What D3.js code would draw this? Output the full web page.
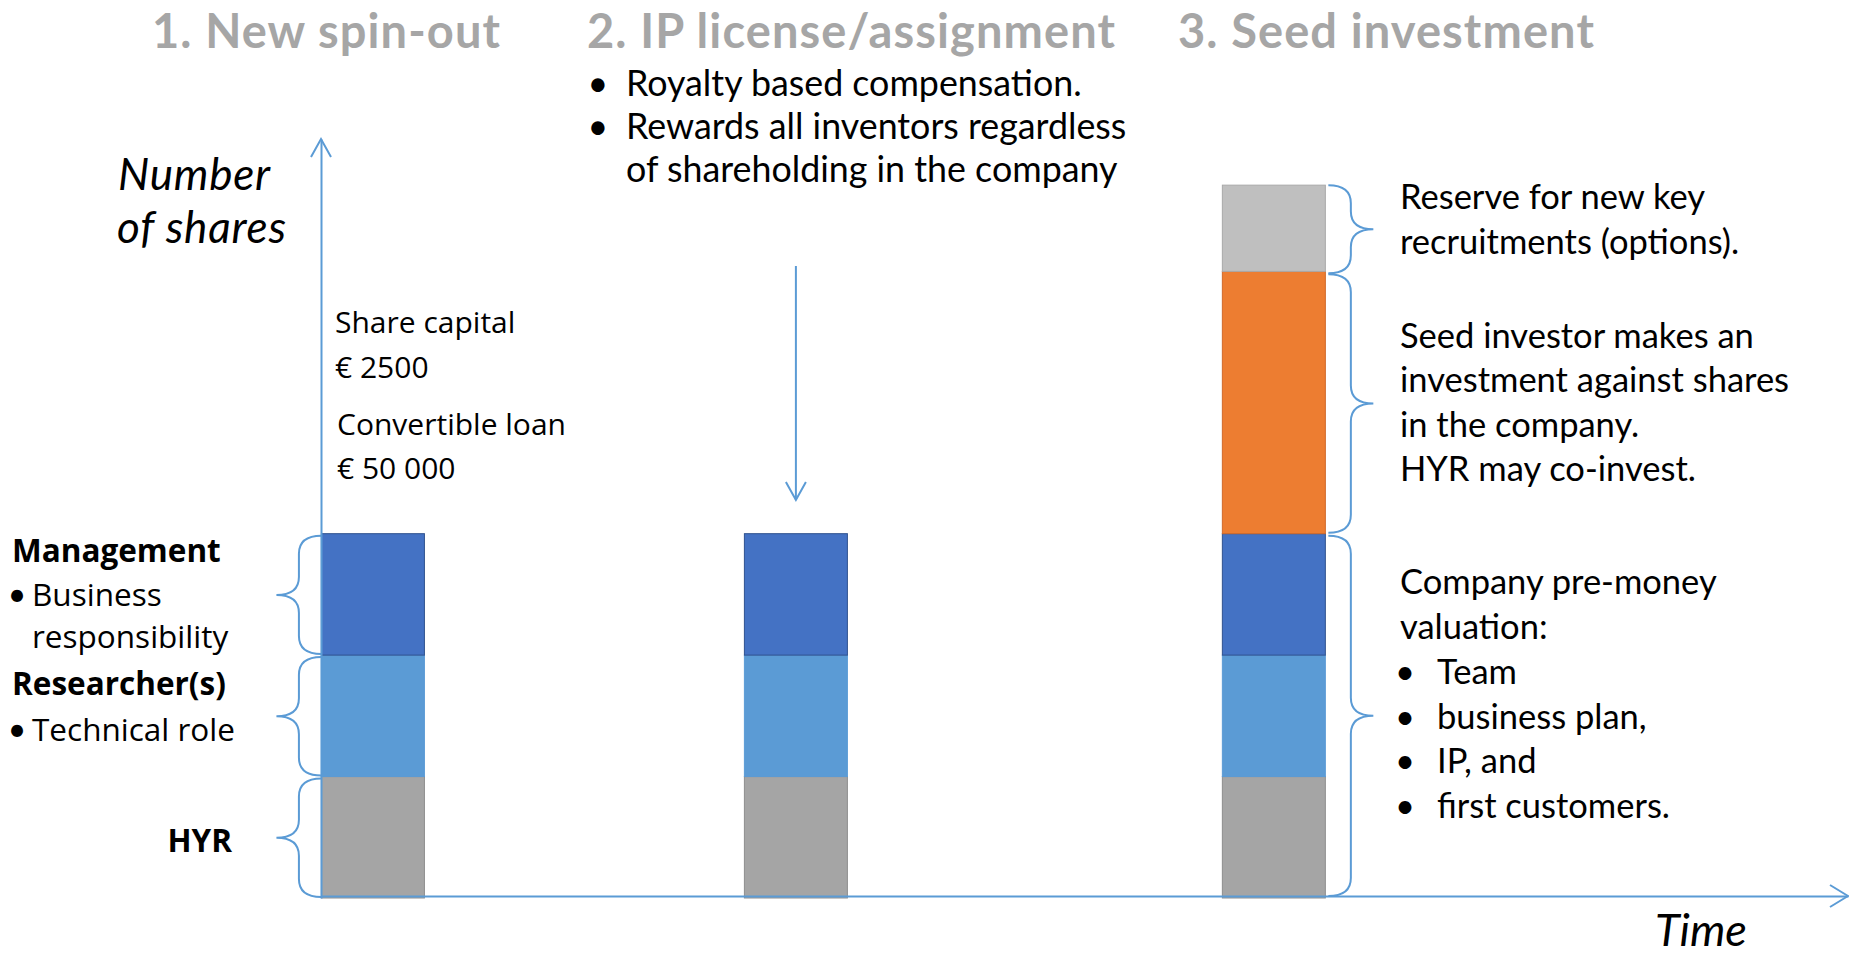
<!DOCTYPE html>
<html>
<head>
<meta charset="utf-8">
<script src="https://cdn.jsdelivr.net/npm/d3@7"></script>
<style>
  body { margin: 0; background: #fff; }
  svg { display: block; }
</style>
</head>
<body>
<svg id="chart"></svg>
<script>
// stages along the time axis
const stages = ["1. New spin-out", "2. IP license/assignment", "3. Seed investment"];
const stageTime = [3.4, 31.1, 62.4];

// share holdings per stage (relative units)
const holders = ["HYR", "Researcher(s)", "Management", "Seed investor", "Reserve"];
const hyrShares = [10, 10, 10];
const researcherShares = [10, 10, 10];
const managementShares = [10, 10, 10];
const seedShares = [0, 0, 21.6];
const reserveShares = [0, 0, 7.1];

const fills = ["#a5a5a5", "#5b9bd5", "#4472c4", "#ed7d31", "#bfbfbf"];
const strokes = ["#8e8e8e", "#5b9bd5", "#2f528f", "#d0692a", "#a9a9a9"];

const width = 1849, height = 956;
const lineColor = "#5b9bd5";
const bodyFont = "Lato, 'Noto Sans', sans-serif";
const labelFont = "'Open Sans', 'Noto Sans', sans-serif";

const svg = d3.select("#chart")
    .attr("width", width)
    .attr("height", height);

// build table for stacking
const table = stages.map((s, i) => ({
  stage: s,
  time: stageTime[i],
  "HYR": hyrShares[i],
  "Researcher(s)": researcherShares[i],
  "Management": managementShares[i],
  "Seed investor": seedShares[i],
  "Reserve": reserveShares[i]
}));

const series = d3.stack().keys(holders)(table);

const xScale = d3.scaleLinear().domain([0, 100]).range([321, 1848]);
const yScale = d3.scaleLinear().domain([0, 62.5]).range([898, 139]);
const barW = 103;

// bars
const layers = svg.append("g").attr("class", "bars")
  .selectAll("g")
  .data(series)
  .join("g")
    .attr("fill", (d, i) => fills[i])
    .attr("stroke", (d, i) => strokes[i])
    .attr("stroke-width", 1);

layers.selectAll("rect")
  .data(d => d.filter(p => p[1] - p[0] > 0))
  .join("rect")
    .attr("x", d => xScale(d.data.time) - barW / 2)
    .attr("y", d => yScale(d[1]))
    .attr("width", barW)
    .attr("height", d => yScale(d[0]) - yScale(d[1]));

// axes (no ticks, just the domain line)
const xAxis = d3.axisBottom(xScale).ticks(0).tickSizeOuter(0);
const yAxis = d3.axisLeft(yScale).ticks(0).tickSizeOuter(0);

svg.append("g")
    .attr("class", "x-axis")
    .attr("transform", `translate(0,${yScale(0) - 2})`)
    .call(xAxis);
svg.append("g")
    .attr("class", "y-axis")
    .attr("transform", `translate(${xScale(0)},0)`)
    .call(yAxis);
svg.selectAll(".x-axis .domain, .y-axis .domain")
    .attr("stroke", lineColor)
    .attr("stroke-width", 2);

const arrows = svg.append("g")
    .attr("fill", "none")
    .attr("stroke", lineColor)
    .attr("stroke-width", 2);

// chevron heads
const x0 = xScale(0), y0 = yScale(0) - 2;
arrows.append("path")
    .attr("d", `M${x0 - 10},${yScale(62.5) + 18} L${x0},${yScale(62.5)} L${x0 + 10},${yScale(62.5) + 18}`);
arrows.append("path")
    .attr("d", `M${xScale(100) - 18},${y0 - 11} L${xScale(100)},${y0} L${xScale(100) - 18},${y0 + 11}`);

// down arrow above stage 2
const ax = xScale(stageTime[1]);
arrows.append("line")
    .attr("x1", ax).attr("x2", ax)
    .attr("y1", 266).attr("y2", 500);
arrows.append("path")
    .attr("d", `M${ax - 10},${482} L${ax},${500} L${ax + 10},${482}`);

// curly braces
function bracePath(xEnd, xTip, yTop, yBot) {
  const xb = (xEnd + xTip) / 2;
  const ym = (yTop + yBot) / 2;
  const r = 18;
  return `M${xEnd},${yTop} Q${xb},${yTop} ${xb},${yTop + r} L${xb},${ym - r} Q${xb},${ym} ${xTip},${ym}` +
         ` Q${xb},${ym} ${xb},${ym + r} L${xb},${yBot - r} Q${xb},${yBot} ${xEnd},${yBot}`;
}

const braces = svg.append("g")
    .attr("fill", "none")
    .attr("stroke", lineColor)
    .attr("stroke-width", 2);

// left braces: each holder of stage 1
const leftEdge = xScale(stageTime[0]) - barW / 2;
series.slice(0, 3).forEach(s => {
  const p = s[0];
  braces.append("path")
      .attr("d", bracePath(leftEdge, leftEdge - 45, yScale(p[1]) + 2, yScale(p[0]) - 1));
});

// right braces: stage 3
const rightEdge = xScale(stageTime[2]) + barW / 2 + 3;
const s3 = series.map(s => s[2]);
braces.append("path")
    .attr("d", bracePath(rightEdge, rightEdge + 45, yScale(s3[4][1]), yScale(s3[4][0]) + 2));
braces.append("path")
    .attr("d", bracePath(rightEdge, rightEdge + 45, yScale(s3[3][1]) + 3, yScale(s3[3][0]) - 1));
braces.append("path")
    .attr("d", bracePath(rightEdge, rightEdge + 45, yScale(s3[2][1]) + 2, yScale(0) - 2));

// stage titles
const titleX = [152, 587, 1178];
svg.append("g").selectAll("text")
  .data(stages)
  .join("text")
    .attr("x", (d, i) => titleX[i])
    .attr("y", 48)
    .attr("font-family", bodyFont)
    .attr("font-weight", "bold")
    .attr("font-size", 47)
    .style("letter-spacing", "1.1px")
    .attr("fill", "#a6a6a6")
    .text(d => d);

// one text element per block, one tspan per line; bullets drawn separately
function textBlock(g, lines, opts) {
  const t = g.append("text")
      .attr("font-family", opts.font)
      .attr("font-size", opts.size)
      .attr("font-style", opts.italic ? "italic" : "normal")
      .style("letter-spacing", opts.spacing || "normal");
  lines.forEach(l => {
    t.append("tspan")
        .attr("x", l.x)
        .attr("y", l.y)
        .attr("font-weight", l.bold ? "bold" : "normal")
        .attr("text-anchor", l.anchor || "start")
        .text(l.t);
  });
  const bullets = lines.filter(l => l.bullet !== undefined);
  if (bullets.length) {
    const b = g.append("text")
        .attr("font-family", bodyFont)
        .attr("font-size", opts.bulletSize || opts.size)
        .attr("text-anchor", "middle");
    bullets.forEach(l => {
      b.append("tspan").attr("x", l.bullet).attr("y", l.y).text("•");
    });
  }
}

const notes = svg.append("g").attr("fill", "#000");

textBlock(notes, [
  {t: "Royalty based compensation.", x: 626, y: 96, bullet: 598},
  {t: "Rewards all inventors regardless", x: 626, y: 139, bullet: 598},
  {t: "of shareholding in the company", x: 626, y: 182}
], {font: bodyFont, size: 35.8});

textBlock(notes, [
  {t: "Number", x: 118, y: 190},
  {t: "of shares", x: 117, y: 243}
], {font: bodyFont, size: 44, italic: true, spacing: "0.8px"});

textBlock(notes, [
  {t: "Time", x: 1655, y: 946}
], {font: bodyFont, size: 45, italic: true});

textBlock(notes, [
  {t: "Share capital", x: 335, y: 333},
  {t: "€ 2500", x: 335, y: 378},
  {t: "Convertible loan", x: 337, y: 435},
  {t: "€ 50 000", x: 337, y: 479}
], {font: labelFont, size: 30});

textBlock(notes, [
  {t: "Management", x: 12, y: 562, bold: true},
  {t: "Business", x: 32, y: 606, bullet: 17},
  {t: "responsibility", x: 32, y: 648},
  {t: "Researcher(s)", x: 12, y: 695, bold: true},
  {t: "Technical role", x: 32, y: 741, bullet: 17},
  {t: "HYR", x: 232, y: 852, bold: true, anchor: "end"}
], {font: labelFont, size: 31.5, bulletSize: 32});

textBlock(notes, [
  {t: "Reserve for new key", x: 1400, y: 209},
  {t: "recruitments (options).", x: 1400, y: 254},
  {t: "Seed investor makes an", x: 1400, y: 348},
  {t: "investment against shares", x: 1400, y: 392},
  {t: "in the company.", x: 1400, y: 437},
  {t: "HYR may co-invest.", x: 1400, y: 481},
  {t: "Company pre-money", x: 1400, y: 594},
  {t: "valuation:", x: 1400, y: 639},
  {t: "Team", x: 1437, y: 684, bullet: 1405},
  {t: "business plan,", x: 1437, y: 729, bullet: 1405},
  {t: "IP, and", x: 1437, y: 773, bullet: 1405},
  {t: "first customers.", x: 1437, y: 818, bullet: 1405}
], {font: bodyFont, size: 34.5});
</script>
</body>
</html>
